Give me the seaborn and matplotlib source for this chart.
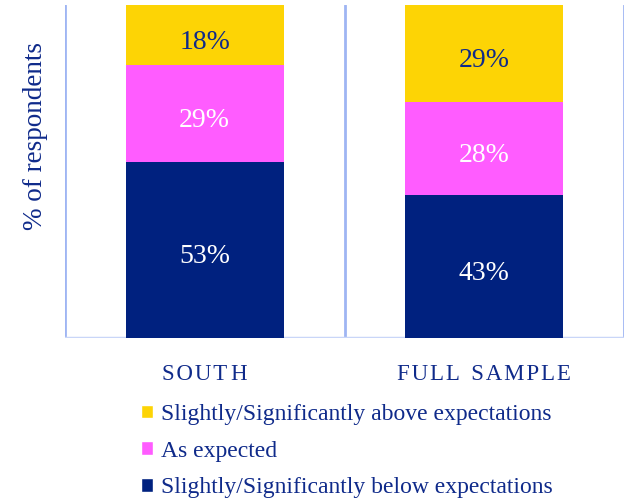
import matplotlib
matplotlib.use("Agg")
import matplotlib.pyplot as plt
import seaborn as sns
import pandas as pd
import numpy as np
from matplotlib.patches import Patch

sns.set_style("white")
plt.rcParams["font.family"] = ["Liberation Serif", "DejaVu Serif"]

# Survey results (% of respondents)
regions = ["S\u200aO\u200aU\u200aT\u200a\u200aH",
           "F\u200aU\u200aL\u200aL\u200a \u200a\u200aS\u200aA\u200aM\u200aP\u200aL\u200aE"]
below = [53, 43]
as_expected = [29, 28]
above = [18, 29]
series_names = ["Slightly/Significantly above expectations",
                "As expected",
                "Slightly/Significantly below expectations"]

NAVY = "#00217f"
PINK = "#ff5cff"
YELLOW = "#fdd405"
TEXT = "#0f2a8a"
GRID = "#9fb5f3"

df = pd.DataFrame({"region": regions, "below": below,
                   "as_expected": as_expected, "above": above})
df["c1"] = df["below"]
df["c2"] = df["below"] + df["as_expected"]
df["c3"] = df["c2"] + df["above"]

fig = plt.figure(figsize=(6.29, 4.99), dpi=100)
ax = fig.add_axes([65 / 629, 1 - 338 / 499, 559 / 629, 333 / 499])

# stacked bars: draw cumulative totals from the top layer down
for col, color in [("c3", YELLOW), ("c2", PINK), ("c1", NAVY)]:
    sns.barplot(data=df, x="region", y=col, color=color, width=0.566,
                saturation=1, ax=ax, linewidth=0, zorder=3)

ax.set_xlim(-0.5, 1.5)
ax.set_ylim(0, 100)

# value labels in the middle of each segment
lab = dict(ha="center", va="center_baseline", fontsize=20, zorder=5,
           xytext=(0, -3), textcoords="offset points")
for i, row in df.iterrows():
    ax.annotate(f"{row['below']}%", (i, row["below"] / 2), color="white", **lab)
    ax.annotate(f"{row['as_expected']}%", (i, row["c1"] + row["as_expected"] / 2),
                color="white", **lab)
    ax.annotate(f"{row['above']}%", (i, row["c2"] + row["above"] / 2),
                color=TEXT, **lab)

# category separators and baseline
for xv in [-0.5, 0.5, 1.5]:
    ax.axvline(xv, color=GRID, lw=2, zorder=1)
ax.axhline(0, color="#c9d6f8", lw=2.5, zorder=1)
for s in ax.spines.values():
    s.set_visible(False)

ax.set_yticks([])
ax.set_xlabel("")
ax.set_ylabel("")
ax.tick_params(axis="x", length=0, pad=19, labelsize=16.5, labelcolor=TEXT)
fig.text(36 / 629, 1 - 136 / 499, "% of respondents", rotation=90,
         ha="center", va="center", color=TEXT, fontsize=19.5)

handles = [Patch(facecolor=YELLOW), Patch(facecolor=PINK), Patch(facecolor=NAVY)]
fig.legend(handles, series_names, loc="upper left",
           bbox_to_anchor=(141 / 629, 1 - 404 / 499), frameon=False,
           fontsize=17, labelcolor=TEXT, handlelength=0.5, handleheight=0.5,
           handletextpad=0.35, labelspacing=0.66, borderaxespad=0, borderpad=0)

fig.savefig("out.png", dpi=100)
